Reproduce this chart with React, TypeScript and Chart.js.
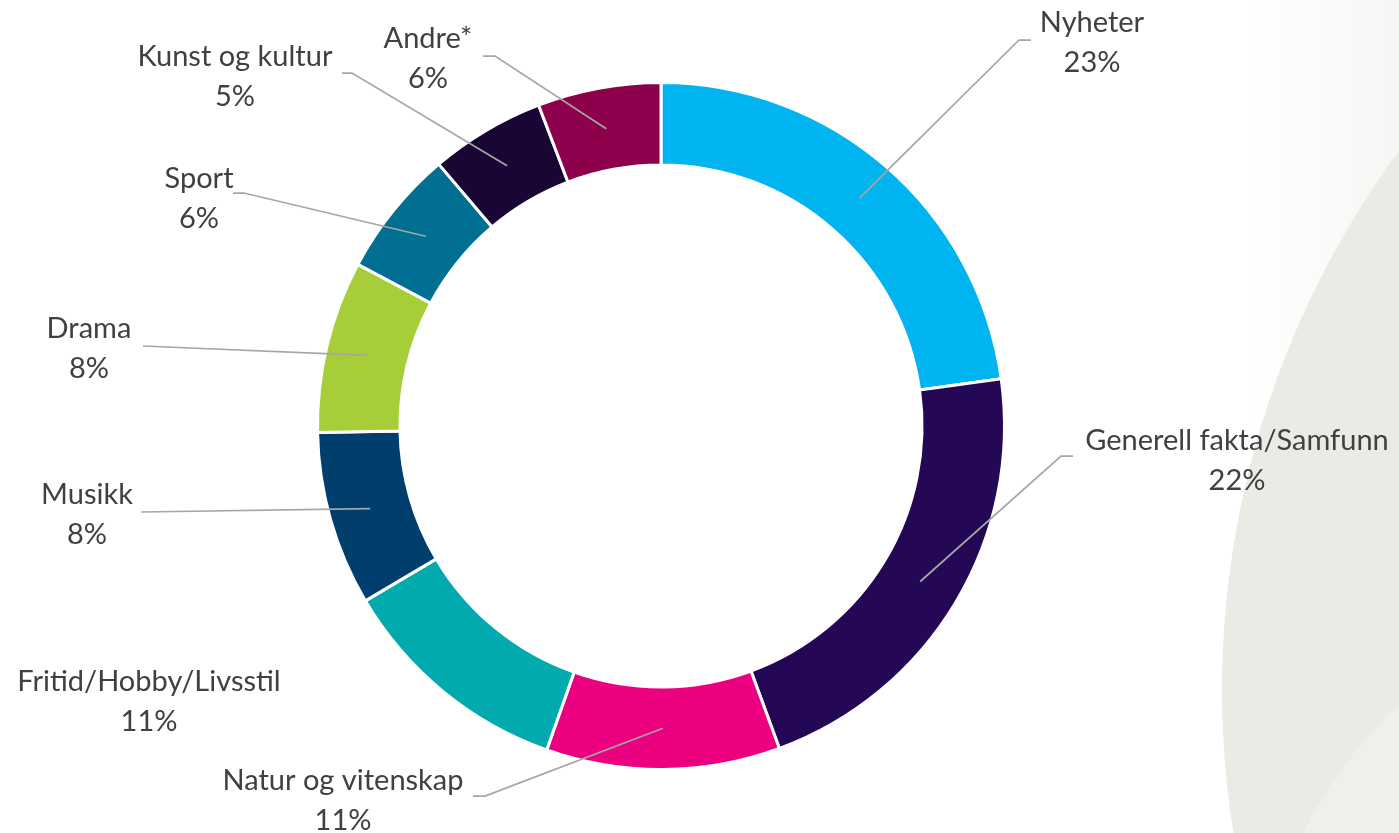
import React, { useEffect, useRef } from "react";
import { Chart, registerables } from "chart.js";

Chart.register(...registerables);

// ---- data ----
const categories = [
  "Nyheter",
  "Generell fakta/Samfunn",
  "Natur og vitenskap",
  "Fritid/Hobby/Livsstil",
  "Musikk",
  "Drama",
  "Sport",
  "Kunst og kultur",
  "Andre*",
];
const shares = [22.8, 21.6, 11.0, 11.1, 8.2, 8.1, 6.0, 5.4, 5.8];
const percentLabels = ["23%", "22%", "11%", "11%", "8%", "8%", "6%", "5%", "6%"];
const sliceColors = [
  "#00B5EF",
  "#250855",
  "#EC0080",
  "#00AAAD",
  "#003E6D",
  "#A6CE39",
  "#006F91",
  "#1A0634",
  "#8C004C",
];

// ---- label layout (offsets from the doughnut centre, px) ----
// text: centre x / first baseline; anchor: line start near text; elbow: bend point
const labelLayout = [
  { tx: 431, ty: -394, ax: 370, ay: -386, bx: 358, by: -386 },
  { tx: 576, ty: 24, ax: 412, ay: 30, bx: 400, by: 30 },
  { tx: -318, ty: 364, ax: -188, ay: 370, bx: -176, by: 370 },
  { tx: -512, ty: 265, ax: null, ay: null, bx: null, by: null },
  { tx: -574, ty: 78, ax: -520, ay: 86, bx: -520, by: 86 },
  { tx: -572, ty: -88, ax: -518, ay: -80, bx: -518, by: -80 },
  { tx: -462, ty: -238, ax: -428, ay: -233, bx: -417, by: -233 },
  { tx: -426, ty: -360, ax: -319, ay: -353, bx: -309, by: -353 },
  { tx: -233, ty: -378, ax: -178, ay: -370, bx: -166, by: -370 },
];

const FONT = "29px Lato, 'Open Sans', sans-serif";
const LINE_GAP = 40;

const backgroundPlugin = {
  id: "bgDecor",
  beforeDraw(chart: any) {
    const { ctx, width, height } = chart;
    ctx.save();
    ctx.fillStyle = "#ffffff";
    ctx.fillRect(0, 0, width, height);
    const g = ctx.createLinearGradient(1250, 0, width, 0);
    g.addColorStop(0, "rgba(246,246,244,0)");
    g.addColorStop(1, "rgba(246,246,244,1)");
    ctx.fillStyle = g;
    ctx.fillRect(1250, 0, width - 1250, height);
    ctx.beginPath();
    ctx.arc(2132, 690, 910, 0, Math.PI * 2);
    ctx.fillStyle = "#EBEBE6";
    ctx.fill();
    ctx.beginPath();
    ctx.ellipse(1640, 920, 400, 320, -0.6, 0, Math.PI * 2);
    ctx.fillStyle = "rgba(243,243,239,0.6)";
    ctx.fill();
    ctx.restore();
  },
};

const labelPlugin = {
  id: "outerLabels",
  afterDatasetsDraw(chart: any) {
    const { ctx } = chart;
    const meta = chart.getDatasetMeta(0);
    const arcs = meta.data;
    if (!arcs.length) return;
    const cx = arcs[0].x;
    const cy = arcs[0].y;
    ctx.save();
    arcs.forEach((arc: any, i: number) => {
      const L = labelLayout[i];
      if (L.ax !== null) {
        const p = arc.tooltipPosition();
        ctx.beginPath();
        ctx.moveTo(cx + L.ax, cy + L.ay);
        ctx.lineTo(cx + L.bx, cy + L.by);
        ctx.lineTo(p.x, p.y);
        ctx.strokeStyle = "#A6A6A6";
        ctx.lineWidth = 1.75;
        ctx.stroke();
      }
      ctx.fillStyle = "#404040";
      ctx.font = FONT;
      ctx.textAlign = "center";
      ctx.textBaseline = "alphabetic";
      ctx.fillText(categories[i], cx + L.tx, cy + L.ty);
      ctx.fillText(percentLabels[i], cx + L.tx, cy + L.ty + LINE_GAP);
    });
    ctx.restore();
  },
};

export default function App() {
  const canvasRef = useRef<HTMLCanvasElement | null>(null);

  useEffect(() => {
    if (!canvasRef.current) return;
    const chart = new Chart(canvasRef.current, {
      type: "doughnut",
      data: {
        labels: categories,
        datasets: [
          {
            data: shares,
            backgroundColor: sliceColors,
            borderColor: "#ffffff",
            borderWidth: 3,
          },
        ],
      },
      options: {
        animation: false,
        responsive: true,
        maintainAspectRatio: false,
        cutout: "76%",
        events: [],
        layout: { padding: { left: 316, top: 81, right: 393, bottom: 62 } },
        plugins: {
          legend: { display: false },
          tooltip: { enabled: false },
        },
      },
      plugins: [backgroundPlugin, labelPlugin],
    });
    return () => chart.destroy();
  }, []);

  return (
    <div
      style={{
        position: "fixed",
        left: 0,
        top: 0,
        width: 1399,
        height: 833,
        background: "#ffffff",
      }}
    >
      <canvas ref={canvasRef} />
    </div>
  );
}
